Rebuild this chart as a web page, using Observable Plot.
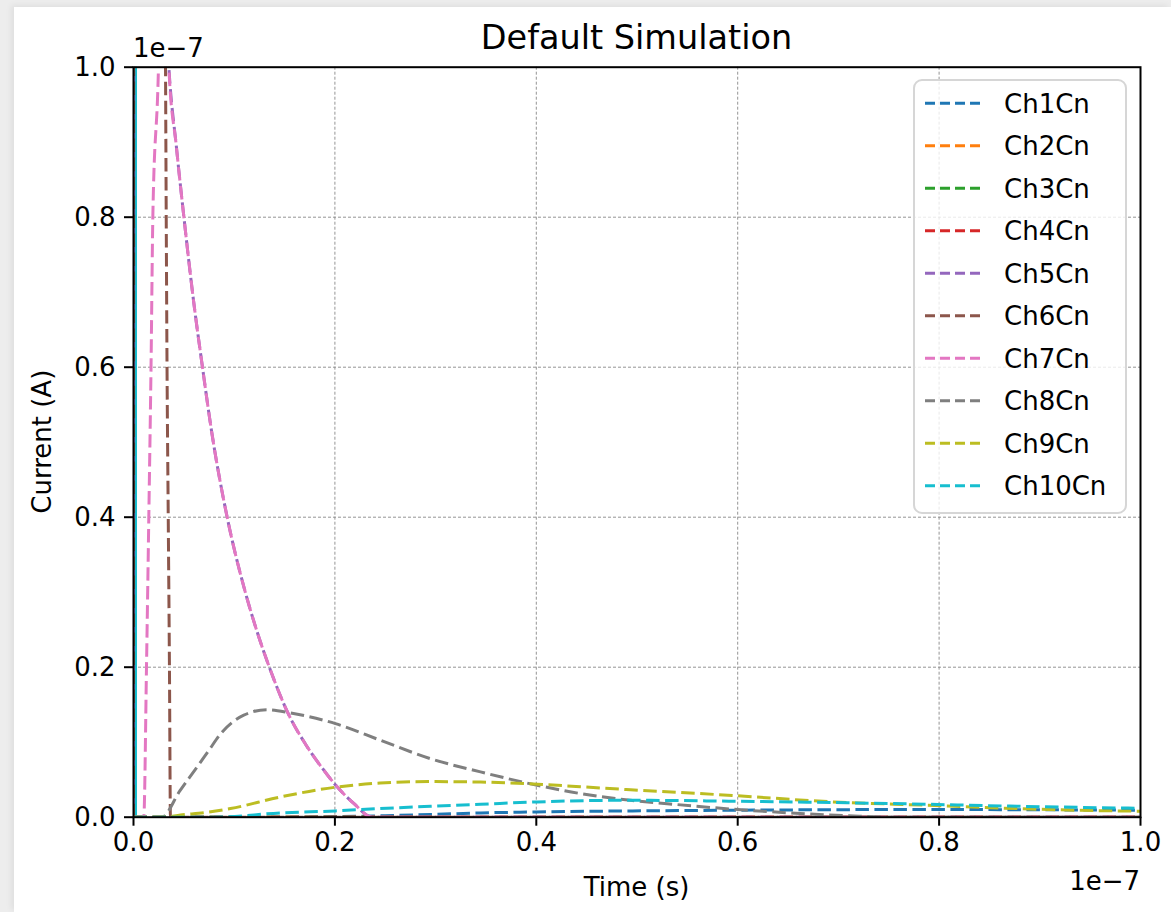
<!DOCTYPE html>
<html>
<head>
<meta charset="utf-8">
<script src="https://cdn.jsdelivr.net/npm/d3@7"></script>
<script src="https://cdn.jsdelivr.net/npm/@observablehq/plot@0.6"></script>
<style>
html, body { margin: 0; padding: 0; width: 1171px; height: 912px; overflow: hidden; background: #ededed; font-family: "DejaVu Sans", sans-serif; }
#page { position: absolute; left: 14px; top: 7px; width: 1157px; height: 905px; background: #ffffff; box-shadow: -3px -2px 6px rgba(0,0,0,0.06); }
#chart { position: absolute; left: 0; top: 0; }
#title { position: absolute; left: 0; top: 21px; width: 1273px; text-align: center; font-size: 33.5px; line-height: 33.5px; color: #000; z-index: 2; }
</style>
</head>
<body>
<div id="page"></div>
<div id="chart"></div>
<div id="title">Default Simulation</div>
<script>
// ---- data (time in units of 1e-7 s, current in units of 1e-7 A) ----
const seriesNames = ["Ch1Cn","Ch2Cn","Ch3Cn","Ch4Cn","Ch5Cn","Ch6Cn","Ch7Cn","Ch8Cn","Ch9Cn","Ch10Cn"];
const seriesColors = ["#1f77b4","#ff7f0e","#2ca02c","#d62728","#9467bd","#8c564b","#e377c2","#7f7f7f","#bcbd22","#17becf"];

const ch1T = [0, 0.15, 0.20, 0.25, 0.30, 0.345, 0.40, 0.4935, 0.5945, 0.695, 0.7865, 0.8775, 1.0];
const ch1I = [0, 0, 0.0008, 0.002, 0.0038, 0.0057, 0.0070, 0.0084, 0.0093, 0.0100, 0.0104, 0.0100, 0.0093];

const ch2T = [0, 1.0];
const ch2I = [0, 0];
const ch3T = [0, 1.0];
const ch3I = [0, 0];
const ch4T = [0, 1.0];
const ch4I = [0, 0];

const ch5T = [0, 0.001, 0.0351, 0.0425, 0.0503, 0.0595, 0.0688, 0.0775, 0.093, 0.110, 0.125, 0.136, 0.154, 0.171, 0.186, 0.2006, 0.219, 0.237, 1.0];
const ch5I = [0, 3.0, 1.0, 0.895, 0.797, 0.69, 0.597, 0.515, 0.40, 0.305, 0.238, 0.196, 0.137, 0.097, 0.068, 0.043, 0.018, 0, 0];

const ch6T = [0, 0.001, 0.0318, 0.0325, 0.0333, 0.0345, 0.0357, 0.0367, 1.0];
const ch6I = [0, 6.0, 1.0, 0.8, 0.6, 0.4, 0.2, 0, 0];

const ch7T = [0, 0.0102, 0.0129, 0.0152, 0.0174, 0.0192, 0.0248, 0.029, 0.0351, 0.0425, 0.0503, 0.0595, 0.0688, 0.0775, 0.093, 0.110, 0.125, 0.136, 0.154, 0.171, 0.186, 0.2006, 0.219, 0.237, 1.0];
const ch7I = [0, 0, 0.2, 0.4, 0.6, 0.8, 1.0, 1.3, 1.0, 0.895, 0.797, 0.69, 0.597, 0.515, 0.40, 0.305, 0.238, 0.196, 0.137, 0.097, 0.068, 0.043, 0.018, 0, 0];

const ch8T = [0, 0.028, 0.046, 0.0632, 0.0748, 0.0864, 0.1095, 0.1327, 0.156, 0.2006, 0.2453, 0.2949, 0.3446, 0.4009, 0.4439, 0.4935, 0.530, 0.596, 0.662, 0.709, 0.75, 1.0];
const ch8I = [0, 0, 0.035, 0.067, 0.089, 0.111, 0.136, 0.1434, 0.139, 0.1247, 0.1025, 0.078, 0.0604, 0.0426, 0.0315, 0.0226, 0.018, 0.0106, 0.005, 0.002, 0, 0];

const ch9T = [0, 0.03, 0.0467, 0.07, 0.0963, 0.146, 0.2006, 0.245, 0.295, 0.3446, 0.4009, 0.4638, 0.4935, 0.5945, 0.695, 0.7865, 0.8775, 0.975, 1.0];
const ch9I = [0, 0, 0.003, 0.006, 0.0115, 0.027, 0.040, 0.0455, 0.0475, 0.0468, 0.044, 0.039, 0.0366, 0.029, 0.0204, 0.016, 0.0115, 0.0084, 0.008];

const ch10T = [0, 0.08, 0.146, 0.2006, 0.245, 0.295, 0.3446, 0.4009, 0.4935, 0.5945, 0.695, 0.7865, 0.8775, 0.975, 1.0];
const ch10I = [0, 0, 0.0057, 0.0084, 0.0115, 0.0146, 0.0173, 0.0204, 0.0226, 0.0213, 0.0195, 0.0173, 0.0146, 0.0124, 0.012];
// initial switching spike of Ch10 at t ~ 0
const ch10SpikeT = [0.002, 0.002];
const ch10SpikeI = [0, 1.2];

const xTicks = [0, 0.2, 0.4, 0.6, 0.8, 1.0];
const yTicks = [0, 0.2, 0.4, 0.6, 0.8, 1.0];
const xLabel = "Time (s)";
const yLabel = "Current (A)";
const offsetLabel = "1e\u22127";

// ---- build table ----
const seriesT = [ch1T, ch2T, ch3T, ch4T, ch5T, ch6T, ch7T, ch8T, ch9T, ch10T];
const seriesI = [ch1I, ch2I, ch3I, ch4I, ch5I, ch6I, ch7I, ch8I, ch9I, ch10I];
const rows = [];
seriesNames.forEach((name, k) => {
  seriesT[k].forEach((t, j) => rows.push({series: name, t, i: seriesI[k][j]}));
});
const spikeRows = ch10SpikeT.map((t, j) => ({t, i: ch10SpikeI[j]}));

const W = 1171, H = 912;
const mL = 133, mR = 31, mT = 66.7, mB = 95.3;
const lineDash = [13.5, 5.5];
const period = lineDash[0] + lineDash[1];

const lineMarks = seriesNames.map((name, k) =>
  Plot.line(rows.filter(d => d.series === name), {
    x: "t", y: "i", stroke: seriesColors[k], strokeWidth: 3, curve: "monotone-x",
    strokeDasharray: lineDash.join(","),
    strokeLinecap: "butt", strokeLinejoin: "round", clip: true
  })
);

const chart = Plot.plot({
  width: W, height: H,
  marginLeft: mL, marginRight: mR, marginTop: mT, marginBottom: mB,
  style: {fontFamily: "DejaVu Sans, sans-serif", fontSize: "26px", color: "#000", background: "transparent", overflow: "visible"},
  x: {domain: [0, 1], label: null},
  y: {domain: [0, 1], label: null},
  marks: [
    Plot.gridX(xTicks.slice(1, -1), {stroke: "#888", strokeOpacity: 1, strokeWidth: 0.9, strokeDasharray: "3,2"}),
    Plot.gridY(yTicks.slice(1, -1), {stroke: "#888", strokeOpacity: 1, strokeWidth: 0.9, strokeDasharray: "3,2"}),
    Plot.line(spikeRows, {x: "t", y: "i", stroke: seriesColors[9], strokeWidth: 3, clip: true}),
    ...lineMarks,
    Plot.frame({stroke: "#000", strokeWidth: 2}),
    Plot.axisX(xTicks, {tickFormat: d => d.toFixed(1), tickSize: 9, tickPadding: 6, strokeWidth: 2, fontSize: 26, label: null}),
    Plot.axisY(yTicks, {tickFormat: d => d.toFixed(1), tickSize: 9, tickPadding: 9, strokeWidth: 2, fontSize: 26, label: null})
  ]
});
document.getElementById("chart").appendChild(chart);

// Ch5 shares Ch7's falling branch; align the dash phases so that only small
// purple specks show in the pink gaps (as in the original rendering).
const linePaths = chart.querySelectorAll('g[aria-label="line"] path');
if (linePaths.length >= 11) {
  const p5 = linePaths[1 + 4], p7 = linePaths[1 + 6];
  const T5 = p5.getTotalLength(), T7 = p7.getTotalLength();
  const off5 = (((T7 - T5 + 2.5) % period) + period) % period;
  p5.setAttribute("stroke-dashoffset", off5);
}

// ---- annotations: axis labels, offset text, legend ----
const svg = d3.select(chart);
const g = svg.append("g").attr("font-family", "DejaVu Sans, sans-serif").attr("font-size", 26).attr("fill", "#000");
g.append("text").attr("x", (mL + W - mR) / 2).attr("y", 896).attr("text-anchor", "middle").text(xLabel);
g.append("text").attr("transform", `translate(51,${(mT + H - mB) / 2}) rotate(-90)`).attr("text-anchor", "middle").text(yLabel);
g.append("text").attr("x", mL).attr("y", 57).attr("text-anchor", "start").text(offsetLabel);
g.append("text").attr("x", W - mR).attr("y", 890).attr("text-anchor", "end").text(offsetLabel);

const leg = svg.append("g").attr("font-family", "DejaVu Sans, sans-serif").attr("font-size", 26).attr("text-anchor", "start");
leg.append("rect").attr("x", 914).attr("y", 80).attr("width", 212).attr("height", 433)
  .attr("rx", 8).attr("fill", "#fff").attr("fill-opacity", 0.8).attr("stroke", "#d6d6d6").attr("stroke-width", 2);
seriesNames.forEach((name, k) => {
  const cy = 103.3 + 42.5 * k;
  leg.append("line").attr("x1", 925).attr("x2", 980).attr("y1", cy).attr("y2", cy)
    .attr("stroke", seriesColors[k]).attr("stroke-width", 3).attr("stroke-dasharray", "10,5");
  leg.append("text").attr("x", 1004).attr("y", cy).attr("dy", "0.36em").attr("text-anchor", "start").attr("fill", "#000").text(name);
});
</script>
</body>
</html>
